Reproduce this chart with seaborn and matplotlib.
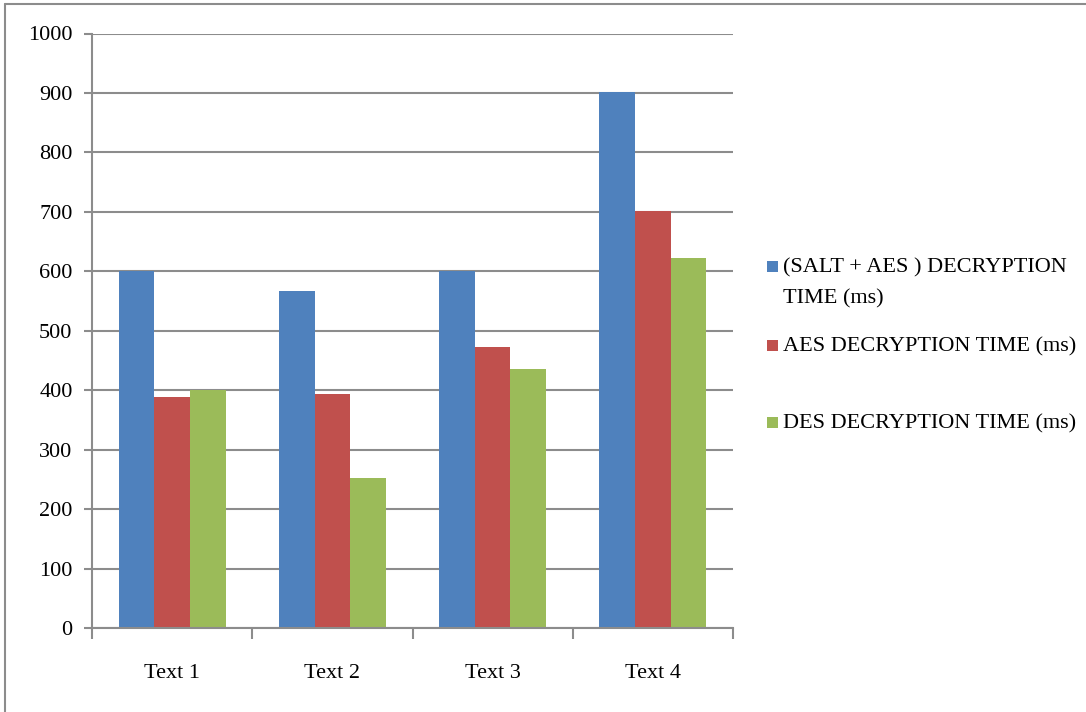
import matplotlib
matplotlib.use("Agg")
import matplotlib.pyplot as plt
from matplotlib.lines import Line2D
from matplotlib.patches import Rectangle
import seaborn as sns
import pandas as pd

# Decryption timings per sample text
texts = ["Text 1", "Text 2", "Text 3", "Text 4"]
series = [
    "(SALT + AES ) DECRYPTION TIME (ms)",
    "AES DECRYPTION TIME (ms)",
    "DES DECRYPTION TIME (ms)",
]
salt_aes = [600, 567, 601, 902]
aes = [388, 393, 472, 701]
des = [401, 253, 436, 622]
yticks = [0, 100, 200, 300, 400, 500, 600, 700, 800, 900, 1000]
colors = ["#4F81BD", "#C0504D", "#9BBB59"]

df = pd.DataFrame({
    "text": texts * 3,
    "series": [series[0]] * 4 + [series[1]] * 4 + [series[2]] * 4,
    "time": salt_aes + aes + des,
})

sns.set_style("white")
plt.rcParams["font.family"] = ["Liberation Serif", "DejaVu Serif"]

W, H = 1086, 712
fig = plt.figure(figsize=(W / 100, H / 100), dpi=100)
ax = fig.add_axes([92 / W, 1 - 628 / H, (733 - 92) / W, (628 - 33.5) / H])

sns.barplot(data=df, x="text", y="time", hue="series", palette=colors,
            width=0.667, gap=0, dodge=True, saturation=1, ax=ax,
            legend=False, edgecolor="none", linewidth=0)

grid_c = "#8c8c8c"
ax.set_xlim(-0.5, 3.5)
ax.set_ylim(0, 1000)
ax.set_yticks(yticks)
ax.set_yticklabels([str(v) for v in yticks])
ax.yaxis.grid(True, color=grid_c, linewidth=1.5)
ax.set_axisbelow(True)
ax.set_xlabel("")
ax.set_ylabel("")

for s in ["top", "right"]:
    ax.spines[s].set_visible(False)
for s in ["left", "bottom"]:
    ax.spines[s].set_color(grid_c)
    ax.spines[s].set_linewidth(1.5)

ax.tick_params(axis="y", length=6, width=1.5, color=grid_c, pad=8,
               labelsize=16, labelcolor="black", left=True)
# category separators on the x axis; labels sit between them
ax.set_xticks([-0.5, 0.5, 1.5, 2.5, 3.5])
ax.set_xticklabels([])
ax.set_xticks(range(len(texts)), minor=True)
ax.set_xticklabels(texts, minor=True)
ax.tick_params(axis="x", which="major", length=8, width=1.5, color=grid_c,
               bottom=True)
ax.tick_params(axis="x", which="minor", length=0, pad=26, labelsize=16,
               labelcolor="black")

# legend entries
legend_rows = [
    (series[0], 268, ["(SALT + AES ) DECRYPTION", "TIME (ms)"]),
    (series[1], 347, ["AES DECRYPTION TIME (ms)"]),
    (series[2], 424, ["DES DECRYPTION TIME (ms)"]),
]
for (name, ypix, lines), c in zip(legend_rows, colors):
    fig.add_artist(Rectangle((767 / W, 1 - (ypix + 4) / H), 11 / W, 11 / H,
                             transform=fig.transFigure, facecolor=c,
                             edgecolor="none"))
    for k, line in enumerate(lines):
        fig.text(783 / W, 1 - (ypix + 31 * k) / H, line, fontsize=16,
                 va="center", ha="left", color="black")

# outer frame
fig.add_artist(Line2D([5 / W, 5 / W], [0, 1 - 4 / H], transform=fig.transFigure,
                      color="#8c8c8c", linewidth=1.5))
fig.add_artist(Line2D([5 / W, 1], [1 - 4 / H, 1 - 4 / H], transform=fig.transFigure,
                      color="#8c8c8c", linewidth=1.5))

fig.savefig("out.png", dpi=100)
